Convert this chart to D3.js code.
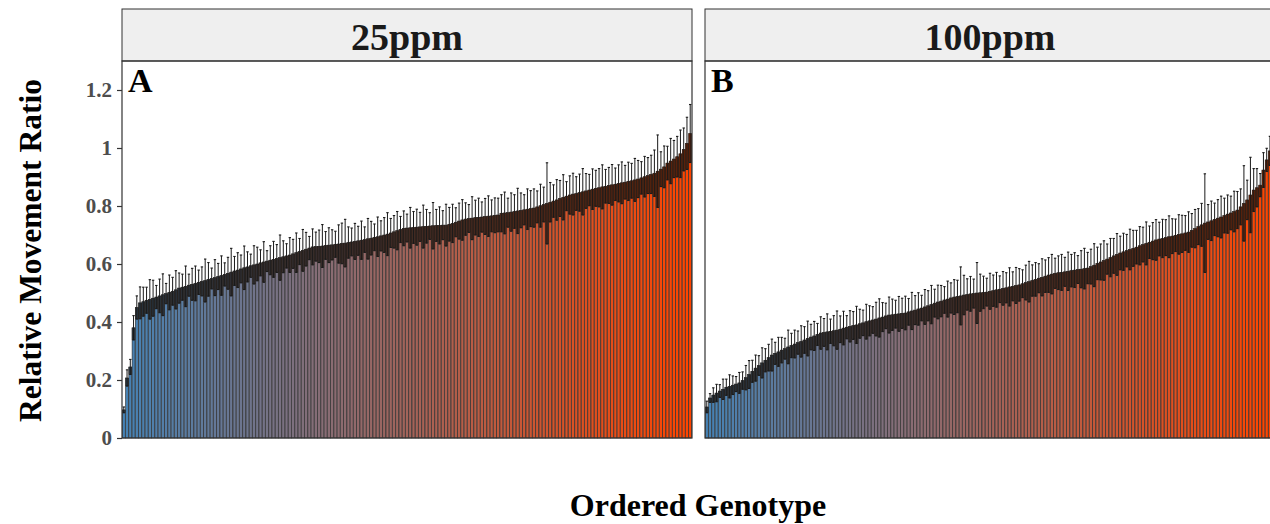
<!DOCTYPE html>
<html>
<head>
<meta charset="utf-8">
<script src="https://cdn.jsdelivr.net/npm/d3@7"></script>
<style>
  body { margin: 0; background: #fff; }
  text { font-family: "Liberation Serif", "DejaVu Serif", serif; font-weight: bold; }
</style>
</head>
<body>
<div id="chart"></div>
<script>
// facet labels and panel letters
let facets = ["25ppm", "100ppm"];
let letters = ["A", "B"];
let yTicks = [0, 0.2, 0.4, 0.6, 0.8, 1, 1.2];

// mean relative movement ratio per genotype, ordered (25ppm)
let mean25 = [
  0.097, 0.207, 0.245, 0.380, 0.450, 0.466, 0.470, 0.475, 0.478, 0.482,
  0.486, 0.490, 0.494, 0.498, 0.502, 0.506, 0.511, 0.517, 0.520, 0.523,
  0.527, 0.530, 0.533, 0.537, 0.540, 0.543, 0.547, 0.550, 0.553, 0.557,
  0.560, 0.564, 0.568, 0.572, 0.576, 0.579, 0.583, 0.587, 0.590, 0.594,
  0.597, 0.600, 0.604, 0.607, 0.610, 0.613, 0.616, 0.619, 0.622, 0.625,
  0.628, 0.631, 0.635, 0.639, 0.643, 0.647, 0.651, 0.655, 0.659, 0.660,
  0.661, 0.662, 0.664, 0.665, 0.666, 0.668, 0.669, 0.671, 0.672, 0.674,
  0.676, 0.678, 0.680, 0.682, 0.684, 0.687, 0.689, 0.692, 0.694, 0.697,
  0.700, 0.703, 0.707, 0.711, 0.715, 0.719, 0.723, 0.724, 0.725, 0.726,
  0.727, 0.728, 0.729, 0.730, 0.731, 0.732, 0.733, 0.733, 0.734, 0.734,
  0.737, 0.740, 0.744, 0.748, 0.752, 0.755, 0.757, 0.758, 0.760, 0.761,
  0.762, 0.764, 0.765, 0.766, 0.768, 0.769, 0.775, 0.776, 0.777, 0.779,
  0.781, 0.783, 0.785, 0.787, 0.789, 0.791, 0.793, 0.797, 0.801, 0.805,
  0.809, 0.813, 0.817, 0.821, 0.826, 0.830, 0.834, 0.838, 0.841, 0.843,
  0.846, 0.849, 0.852, 0.855, 0.858, 0.861, 0.863, 0.866, 0.868, 0.871,
  0.873, 0.875, 0.878, 0.880, 0.882, 0.885, 0.887, 0.890, 0.893, 0.897,
  0.901, 0.905, 0.909, 0.913, 0.920, 0.927, 0.935, 0.948, 0.955, 0.962,
  0.970, 0.980, 0.995, 1.016, 1.050
];
// standard error (25ppm)
let se25 = [
  0.010, 0.028, 0.026, 0.042, 0.040, 0.055, 0.050, 0.045, 0.068, 0.062,
  0.040, 0.058, 0.072, 0.035, 0.060, 0.048, 0.066, 0.052, 0.045, 0.070,
  0.038, 0.055, 0.060, 0.042, 0.050, 0.074, 0.058, 0.036, 0.062, 0.045,
  0.068, 0.040, 0.055, 0.082, 0.050, 0.060, 0.048, 0.075, 0.052, 0.040,
  0.066, 0.058, 0.045, 0.070, 0.036, 0.050, 0.062, 0.048, 0.078, 0.055,
  0.042, 0.060, 0.050, 0.068, 0.045, 0.072, 0.058, 0.040, 0.062, 0.050,
  0.056, 0.074, 0.048, 0.060, 0.052, 0.045, 0.066, 0.070, 0.082, 0.054,
  0.048, 0.062, 0.050, 0.066, 0.044, 0.070, 0.058, 0.046, 0.068, 0.052,
  0.060, 0.074, 0.050, 0.056, 0.066, 0.045, 0.060, 0.048, 0.070, 0.055,
  0.062, 0.050, 0.074, 0.058, 0.046, 0.080, 0.055, 0.064, 0.050, 0.072,
  0.058, 0.066, 0.050, 0.062, 0.070, 0.056, 0.048, 0.074, 0.060, 0.066,
  0.052, 0.062, 0.070, 0.055, 0.060, 0.058, 0.064, 0.072, 0.050, 0.066,
  0.058, 0.078, 0.060, 0.052, 0.070, 0.062, 0.066, 0.055, 0.074, 0.060,
  0.140, 0.068, 0.056, 0.070, 0.062, 0.078, 0.050, 0.066, 0.072, 0.058,
  0.064, 0.080, 0.060, 0.054, 0.070, 0.062, 0.066, 0.076, 0.058, 0.062,
  0.070, 0.056, 0.064, 0.072, 0.058, 0.066, 0.060, 0.074, 0.064, 0.056,
  0.070, 0.062, 0.066, 0.080, 0.125, 0.060, 0.072, 0.058, 0.078, 0.064,
  0.070, 0.082, 0.074, 0.090, 0.100
];

// mean relative movement ratio per genotype, ordered (100ppm)
let mean100 = [
  0.107, 0.138, 0.148, 0.155, 0.162, 0.168, 0.175, 0.178, 0.182, 0.186,
  0.190, 0.198, 0.208, 0.219, 0.230, 0.241, 0.250, 0.259, 0.268, 0.277,
  0.286, 0.292, 0.297, 0.303, 0.308, 0.314, 0.319, 0.324, 0.329, 0.333,
  0.338, 0.343, 0.348, 0.352, 0.357, 0.362, 0.364, 0.366, 0.368, 0.370,
  0.372, 0.375, 0.379, 0.382, 0.385, 0.388, 0.390, 0.394, 0.397, 0.401,
  0.404, 0.407, 0.410, 0.414, 0.417, 0.421, 0.424, 0.425, 0.427, 0.428,
  0.430, 0.431, 0.435, 0.438, 0.441, 0.445, 0.448, 0.452, 0.456, 0.460,
  0.465, 0.469, 0.472, 0.476, 0.479, 0.483, 0.486, 0.488, 0.490, 0.493,
  0.495, 0.497, 0.498, 0.500, 0.501, 0.502, 0.503, 0.506, 0.508, 0.511,
  0.513, 0.516, 0.518, 0.521, 0.523, 0.526, 0.528, 0.532, 0.536, 0.539,
  0.543, 0.547, 0.551, 0.554, 0.558, 0.562, 0.565, 0.568, 0.570, 0.571,
  0.573, 0.575, 0.577, 0.579, 0.581, 0.582, 0.584, 0.586, 0.591, 0.596,
  0.602, 0.607, 0.612, 0.617, 0.622, 0.628, 0.633, 0.638, 0.642, 0.646,
  0.650, 0.654, 0.658, 0.663, 0.667, 0.671, 0.675, 0.679, 0.683, 0.686,
  0.688, 0.691, 0.694, 0.696, 0.699, 0.702, 0.704, 0.707, 0.710, 0.716,
  0.722, 0.729, 0.735, 0.741, 0.745, 0.749, 0.754, 0.758, 0.762, 0.767,
  0.772, 0.776, 0.781, 0.786, 0.797, 0.809, 0.821, 0.838, 0.855, 0.863,
  0.872, 0.924, 0.959, 0.990, 1.020
];
// standard error (100ppm)
let se100 = [
  0.020, 0.015, 0.025, 0.030, 0.022, 0.035, 0.028, 0.040, 0.032, 0.026,
  0.036, 0.030, 0.042, 0.048, 0.038, 0.045, 0.034, 0.052, 0.040, 0.046,
  0.055, 0.038, 0.050, 0.044, 0.036, 0.058, 0.042, 0.048, 0.040, 0.054,
  0.046, 0.060, 0.044, 0.050, 0.038, 0.056, 0.048, 0.062, 0.042, 0.052,
  0.066, 0.046, 0.058, 0.040, 0.054, 0.048, 0.064, 0.050, 0.044, 0.060,
  0.052, 0.046, 0.058, 0.066, 0.050, 0.044, 0.062, 0.054, 0.048, 0.060,
  0.052, 0.058, 0.046, 0.064, 0.050, 0.056, 0.044, 0.060, 0.052, 0.066,
  0.048, 0.058, 0.054, 0.046, 0.062, 0.052, 0.060, 0.056, 0.100, 0.068,
  0.054, 0.060, 0.050, 0.105, 0.064, 0.056, 0.048, 0.062, 0.054, 0.060,
  0.046, 0.058, 0.052, 0.066, 0.050, 0.062, 0.056, 0.048, 0.060, 0.070,
  0.054, 0.058, 0.050, 0.064, 0.056, 0.060, 0.068, 0.052, 0.058, 0.062,
  0.050, 0.066, 0.056, 0.060, 0.048, 0.064, 0.070, 0.054, 0.060, 0.074,
  0.056, 0.062, 0.068, 0.052, 0.066, 0.060, 0.072, 0.058, 0.064, 0.056,
  0.070, 0.062, 0.058, 0.066, 0.060, 0.074, 0.056, 0.064, 0.070, 0.058,
  0.066, 0.062, 0.072, 0.060, 0.056, 0.068, 0.064, 0.060, 0.070, 0.058,
  0.066, 0.062, 0.074, 0.170, 0.060, 0.068, 0.056, 0.064, 0.072, 0.060,
  0.066, 0.058, 0.070, 0.064, 0.062, 0.130, 0.068, 0.130, 0.074, 0.066,
  0.040, 0.060, 0.040, 0.050, 0.050
];

let svgWidth = 1270, svgHeight = 524;
let panelTop = 61, panelBottom = 438;
let panelLeft = [122, 705], panelWidth = 570;
let stripTop = 9;

let svg = d3.select("#chart").append("svg")
  .attr("width", svgWidth)
  .attr("height", svgHeight);

let yScale = d3.scaleLinear().domain([0, 1.3]).range([panelBottom, panelTop]);

let panelData = [
  mean25.map((m, i) => ({ i: i, mean: m, se: se25[i] })),
  mean100.map((m, i) => ({ i: i, mean: m, se: se100[i] }))
];

let colorRamp = d3.interpolateRgb("steelblue", "orangered");

panelData.forEach(function (data, p) {
  let x0 = panelLeft[p];
  let xScale = d3.scaleBand()
    .domain(data.map(d => d.i))
    .range([x0, x0 + panelWidth])
    .padding(0.1);
  let n = data.length;

  let g = svg.append("g");

  // strip
  g.append("rect")
    .attr("x", x0).attr("y", stripTop)
    .attr("width", panelWidth).attr("height", panelTop - stripTop)
    .attr("fill", "#efefef").attr("stroke", "#333").attr("stroke-width", 1);
  g.append("text")
    .attr("x", x0 + panelWidth / 2).attr("y", 37)
    .attr("text-anchor", "middle").attr("dominant-baseline", "central")
    .style("font-size", "38px").attr("fill", "#1a1a1a")
    .text(facets[p]);

  // bars
  g.selectAll("rect.bar")
    .data(data)
    .enter().append("rect")
    .attr("class", "bar")
    .attr("x", d => xScale(d.i))
    .attr("width", xScale.bandwidth())
    .attr("y", d => yScale(d.mean))
    .attr("height", d => yScale(0) - yScale(d.mean))
    .attr("fill", d => colorRamp(d.i / (n - 1)))
    .attr("stroke", "#262626").attr("stroke-width", 0.6);

  // darkened band between lower error and mean
  g.selectAll("rect.band")
    .data(data)
    .enter().append("rect")
    .attr("class", "band")
    .attr("x", d => xScale(d.i) - 0.3)
    .attr("width", xScale.bandwidth() + 0.6)
    .attr("y", d => yScale(d.mean))
    .attr("height", d => yScale(d.mean - d.se) - yScale(d.mean))
    .attr("fill", "#1a1008").attr("fill-opacity", 0.6);

  // error bars
  let cx = d => xScale(d.i) + xScale.bandwidth() / 2;
  g.selectAll("line.err")
    .data(data)
    .enter().append("line")
    .attr("class", "err")
    .attr("x1", cx).attr("x2", cx)
    .attr("y1", d => yScale(d.mean - d.se))
    .attr("y2", d => yScale(d.mean + d.se))
    .attr("stroke", "#1a1a1a").attr("stroke-width", 1);
  ["upper", "lower"].forEach(function (k) {
    g.selectAll("line.cap-" + k)
      .data(data)
      .enter().append("line")
      .attr("class", "cap-" + k)
      .attr("x1", d => cx(d) - 1.2).attr("x2", d => cx(d) + 1.2)
      .attr("y1", d => yScale(k === "upper" ? d.mean + d.se : d.mean - d.se))
      .attr("y2", d => yScale(k === "upper" ? d.mean + d.se : d.mean - d.se))
      .attr("stroke", "#1a1a1a").attr("stroke-width", 1.1);
  });

  // panel border
  g.append("rect")
    .attr("x", x0).attr("y", panelTop)
    .attr("width", panelWidth).attr("height", panelBottom - panelTop)
    .attr("fill", "none").attr("stroke", "#333").attr("stroke-width", 1.2);

  // panel letter
  g.append("text")
    .attr("x", x0 + 6).attr("y", 92)
    .style("font-size", "34px").attr("fill", "#000")
    .text(letters[p]);
});

// y axis on the first panel
let yAxis = d3.axisLeft(yScale)
  .tickValues(yTicks)
  .tickSize(5)
  .tickPadding(5)
  .tickFormat(d => d3.format("~g")(d));
let yG = svg.append("g")
  .attr("transform", `translate(${panelLeft[0]},0)`)
  .call(yAxis);
yG.select(".domain").remove();
yG.selectAll(".tick line").attr("stroke", "#333").attr("stroke-width", 1.2);
yG.selectAll(".tick text")
  .style("font-family", "'Liberation Serif', serif")
  .style("font-weight", "bold")
  .style("font-size", "21px")
  .attr("fill", "#4d4d4d");

// axis titles
svg.append("text")
  .attr("transform", `translate(30, ${(panelTop + panelBottom) / 2 + 1}) rotate(-90)`)
  .attr("text-anchor", "middle").attr("dominant-baseline", "central")
  .style("font-size", "31.5px")
  .text("Relative Movement Ratio");

svg.append("text")
  .attr("x", 698).attr("y", 505)
  .attr("text-anchor", "middle").attr("dominant-baseline", "central")
  .style("font-size", "32px")
  .text("Ordered Genotype");
</script>
</body>
</html>
